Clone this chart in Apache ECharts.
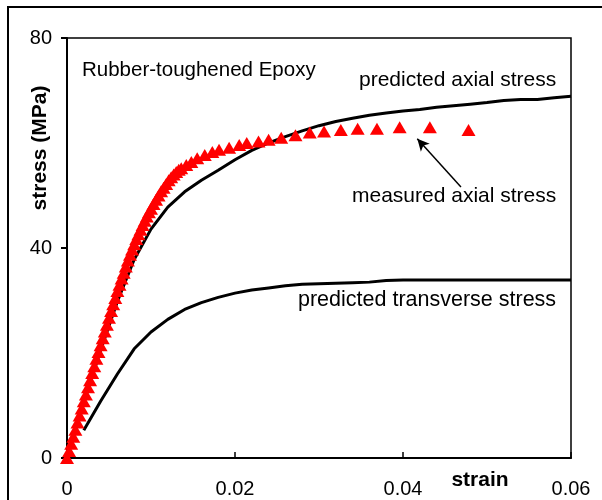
<!DOCTYPE html>
<html>
<head>
<meta charset="utf-8">
<script src="https://cdn.jsdelivr.net/npm/echarts@6/dist/echarts.min.js"></script>
<style>
  html, body { margin: 0; padding: 0; background: #fff; }
  #chart { width: 602px; height: 500px; }
</style>
</head>
<body>
<div id="chart"></div>
<script>
// measured axial stress (triangles)
const measuredStrain = [
  0, 0.00025, 0.0005, 0.00075, 0.001, 0.00125, 0.0015, 0.00175, 0.002, 0.00225,
  0.0025, 0.00275, 0.003, 0.00325, 0.0035, 0.00375, 0.004, 0.00425, 0.0045, 0.00475,
  0.005, 0.00525, 0.0055, 0.00575, 0.006, 0.00625, 0.0065, 0.00675, 0.007, 0.00725,
  0.0075, 0.00775, 0.008, 0.00825, 0.0085, 0.00875, 0.009, 0.00925, 0.0095, 0.00975,
  0.01, 0.0103, 0.0106, 0.0109, 0.0112, 0.0115, 0.0118, 0.0121, 0.0124, 0.0127,
  0.013, 0.0133, 0.0136, 0.0142, 0.0148, 0.0155, 0.0164, 0.0173, 0.0181, 0.0193,
  0.0205, 0.0214, 0.0228, 0.024, 0.0255, 0.0272, 0.0289, 0.0306, 0.0326, 0.0346,
  0.0369, 0.0396, 0.0432, 0.0478
];
const measuredStress = [
  0, 1.35, 2.7, 4.05, 5.4, 6.75, 8.1, 9.45, 10.8, 12.1,
  13.5, 14.8, 16.2, 17.5, 18.9, 20.2, 21.5, 22.8, 24.1, 25.4,
  26.7, 28.0, 29.3, 30.5, 31.8, 33.0, 34.2, 35.3, 36.5, 37.6,
  38.7, 39.7, 40.7, 41.7, 42.6, 43.5, 44.4, 45.2, 46.0, 46.8,
  47.5, 48.4, 49.2, 50.0, 50.8, 51.5, 52.2, 52.9, 53.5, 54.0,
  54.5, 54.9, 55.2, 55.8, 56.4, 57.1, 57.7, 58.3, 58.7, 59.1,
  59.6, 60.0, 60.3, 60.6, 61.0, 61.5, 62.0, 62.2, 62.5, 62.7,
  62.7, 63.0, 63.0, 62.5
];

// predicted axial stress
const axialStrain = [
  0, 0.002, 0.004, 0.006, 0.008, 0.01, 0.012, 0.014, 0.016, 0.018,
  0.02, 0.022, 0.024, 0.026, 0.028, 0.03, 0.032, 0.034, 0.036, 0.038,
  0.04, 0.042, 0.044, 0.046, 0.048, 0.05, 0.052, 0.054, 0.056, 0.058, 0.06
];
const axialStress = [
  0, 10.5, 20.5, 29.8, 37.8, 43.6, 47.8, 50.7, 52.9, 54.8,
  56.8, 58.6, 60.0, 61.2, 62.3, 63.3, 64.1, 64.7, 65.3, 65.7,
  66.1, 66.4, 66.8, 67.1, 67.4, 67.7, 68.1, 68.3, 68.3, 68.6, 68.9
];

// predicted transverse stress
const transStrain = [
  0.002, 0.004, 0.006, 0.008, 0.01, 0.012, 0.014, 0.016, 0.018, 0.02,
  0.022, 0.024, 0.026, 0.028, 0.03, 0.032, 0.034, 0.036, 0.038, 0.04,
  0.045, 0.05, 0.055, 0.06
];
const transStress = [
  5.3, 10.8, 16.0, 20.8, 24.0, 26.4, 28.3, 29.6, 30.6, 31.4,
  32.0, 32.4, 32.8, 33.1, 33.2, 33.3, 33.4, 33.5, 33.8, 33.9,
  33.9, 33.9, 33.9, 33.9
];

const xTicks = [0, 0.02, 0.04, 0.06];
const yTicks = [0, 40, 80];

const font = "Liberation Sans, Arial, sans-serif";
const zip = (a, b) => a.map((v, i) => [v, b[i]]);

const chart = echarts.init(document.getElementById("chart"));
chart.setOption({
  animation: false,
  backgroundColor: "#fff",
  grid: {
    left: 67,
    right: 31,
    top: 38,
    bottom: 42,
    show: true,
    borderColor: "#000",
    borderWidth: 1.5,
  },
  xAxis: {
    type: "value",
    min: xTicks[0],
    max: xTicks[xTicks.length - 1],
    interval: 0.02,
    axisLine: { lineStyle: { color: "#000", width: 2 } },
    axisTick: { inside: true, length: 6, lineStyle: { color: "#000", width: 1.5 } },
    axisLabel: {
      margin: 21,
      color: "#000",
      fontFamily: font,
      fontSize: 20,
      formatter: (v) => String(+v.toFixed(2)),
    },
    splitLine: { show: false },
  },
  yAxis: {
    type: "value",
    min: yTicks[0],
    max: yTicks[yTicks.length - 1],
    interval: 40,
    axisLine: { lineStyle: { color: "#000", width: 2 } },
    axisTick: { inside: false, length: 6, lineStyle: { color: "#000", width: 2 } },
    axisLabel: { margin: 15, color: "#000", fontFamily: font, fontSize: 20 },
    splitLine: { show: false },
  },
  series: [
    {
      name: "predicted transverse stress",
      type: "line",
      data: zip(transStrain, transStress),
      showSymbol: false,
      lineStyle: { color: "#000", width: 3 },
      z: 2,
    },
    {
      name: "predicted axial stress",
      type: "line",
      data: zip(axialStrain, axialStress),
      showSymbol: false,
      lineStyle: { color: "#000", width: 3 },
      z: 2,
      // arrow pointing at the measured points
      markLine: {
        silent: true,
        symbol: ["none", "arrow"],
        symbolSize: [9, 12],
        label: { show: false },
        lineStyle: { color: "#000", width: 1.5, type: "solid" },
        data: [[{ coord: [0.0469, 51.6] }, { coord: [0.0417, 60.8] }]],
      },
    },
    {
      name: "measured axial stress",
      type: "scatter",
      data: zip(measuredStrain, measuredStress),
      symbol: "triangle",
      symbolSize: [14, 12],
      itemStyle: { color: "#ff0000", opacity: 1 },
      z: 3,
    },
  ],
  graphic: [
    {
      type: "rect",
      shape: { x: 8, y: 7, width: 700, height: 600 },
      style: { fill: null, stroke: "#000", lineWidth: 2 },
      silent: true,
    },
    {
      type: "text", x: 82, y: 70,
      style: { text: "Rubber-toughened Epoxy", font: "20.5px " + font, fill: "#000", verticalAlign: "middle" },
    },
    {
      type: "text", x: 359, y: 80,
      style: { text: "predicted axial stress", font: "21px " + font, fill: "#000", verticalAlign: "middle" },
    },
    {
      type: "text", x: 352, y: 196,
      style: { text: "measured axial stress", font: "21px " + font, fill: "#000", verticalAlign: "middle" },
    },
    {
      type: "text", x: 298, y: 300,
      style: { text: "predicted transverse stress", font: "21.5px " + font, fill: "#000", verticalAlign: "middle" },
    },
    {
      type: "text", x: 480, y: 480,
      style: {
        text: "strain", font: "bold 21px " + font, fill: "#000",
        align: "center", verticalAlign: "middle",
      },
    },
    {
      type: "text", x: 40, y: 148, rotation: Math.PI / 2,
      style: {
        text: "stress (MPa)", font: "bold 21px " + font, fill: "#000",
        align: "center", verticalAlign: "middle",
      },
    },
  ],
});
</script>
</body>
</html>
